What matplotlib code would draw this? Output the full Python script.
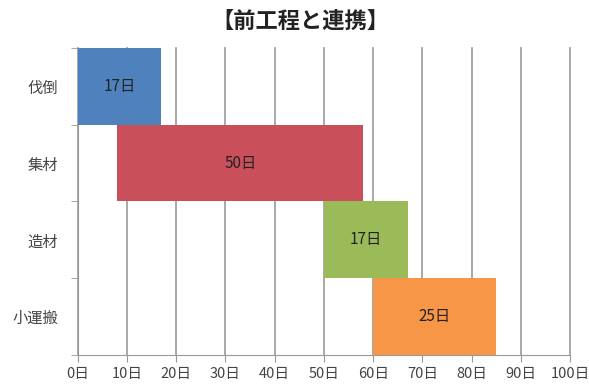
import matplotlib
matplotlib.use("Agg")
import matplotlib.pyplot as plt

plt.rcParams['font.family'] = ['Noto Sans CJK JP', 'DejaVu Sans']

tasks = ["伐倒", "集材", "造材", "小運搬"]
start = [0, 8, 50, 60]
days = [17, 50, 17, 25]
colors = ["#4F81BD", "#C9505A", "#9BBB59", "#F79646"]
xticks = list(range(0, 101, 10))

fig = plt.figure(figsize=(5.89, 3.92), dpi=100)
ax = fig.add_axes([0.132, 0.094, 0.836, 0.784])

ypos = list(range(len(tasks)))
ax.barh(ypos, days, left=start, height=1.0, color=colors, zorder=3)
for y, s, d in zip(ypos, start, days):
    ax.text(s + d / 2, y, f"{d}日", ha="center", va="center",
            fontsize=11, color="#222222", zorder=4)

ax.set_xlim(0, 100)
ax.set_ylim(len(tasks) - 0.5, -0.5)
ax.set_xticks(xticks)
ax.set_xticklabels([f"{v}日" for v in xticks], fontsize=10.5, color="#444444")
ax.set_yticks(ypos)
ax.set_yticklabels(tasks, fontsize=11, color="#444444")
ax.tick_params(axis="y", length=0, pad=14)
ax.set_yticks([i - 0.5 for i in range(len(tasks) + 1)], minor=True)
ax.tick_params(axis="y", which="minor", length=5, color="#999999")
ax.tick_params(axis="x", length=5, color="#999999")
ax.xaxis.grid(True, color="#999999", linewidth=1.2, zorder=0)
for gl in ax.get_xgridlines():
    gl.set_clip_on(False)

for side in ["top", "right"]:
    ax.spines[side].set_visible(False)
for side in ["left", "bottom"]:
    ax.spines[side].set_color("#999999")

fig.text(0.51, 0.945, "【前工程と連携】", ha="center", va="center",
         fontsize=16, fontweight="bold", color="#222222")

fig.savefig("out.png", dpi=100)
